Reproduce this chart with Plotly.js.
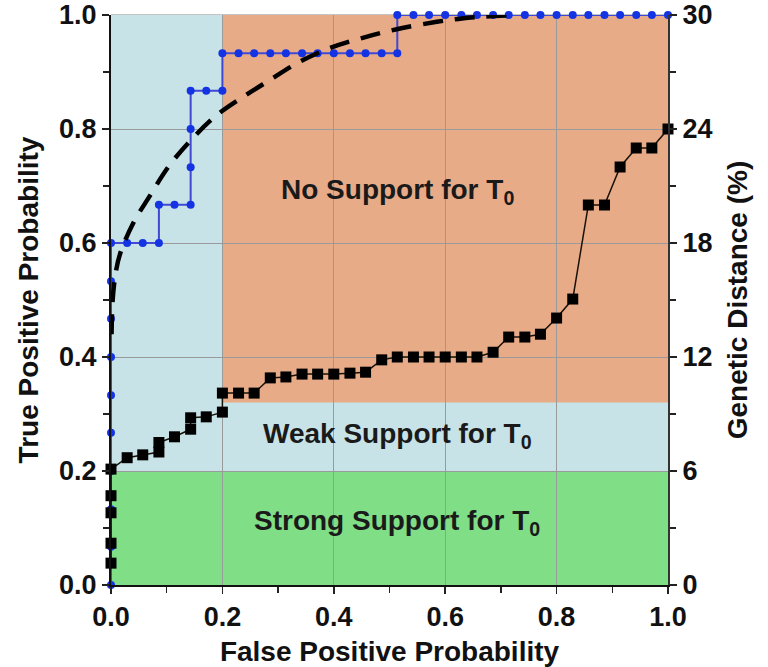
<!DOCTYPE html>
<html>
<head>
<meta charset="utf-8">
<script src="https://cdn.plot.ly/plotly-3.0.1.min.js"></script>
<style>
  html, body { margin: 0; padding: 0; background: #ffffff; }
  #chart { width: 768px; height: 667px; }
</style>
</head>
<body>
<div id="chart"></div>
<script>
// Empirical ROC: false / true positive probability at each threshold
const rocFpp = [0, 0, 0, 0, 0, 0, 0, 0, 0, 0,
  0.029, 0.057, 0.086, 0.086, 0.114, 0.143, 0.143, 0.143, 0.143,
  0.171, 0.2, 0.2, 0.229, 0.257, 0.286, 0.314, 0.343, 0.371, 0.4,
  0.429, 0.457, 0.486, 0.514, 0.514, 0.543, 0.571, 0.6, 0.629, 0.657,
  0.686, 0.714, 0.743, 0.771, 0.8, 0.829, 0.857, 0.886, 0.914, 0.943,
  0.971, 1.0];
const rocTpp = [0, 0.067, 0.133, 0.2, 0.267, 0.333, 0.4, 0.467, 0.533, 0.6,
  0.6, 0.6, 0.6, 0.667, 0.667, 0.667, 0.733, 0.8, 0.867,
  0.867, 0.867, 0.933, 0.933, 0.933, 0.933, 0.933, 0.933, 0.933, 0.933,
  0.933, 0.933, 0.933, 0.933, 1.0, 1.0, 1.0, 1.0, 1.0, 1.0,
  1.0, 1.0, 1.0, 1.0, 1.0, 1.0, 1.0, 1.0, 1.0, 1.0,
  1.0, 1.0];

// Fitted (smooth) ROC curve
const fitFpp = [0.001, 0.003, 0.008, 0.016, 0.04, 0.068, 0.104, 0.143, 0.187,
  0.235, 0.282, 0.339, 0.393, 0.452, 0.513, 0.585, 0.63, 0.67, 0.71];
const fitTpp = [0.44, 0.5, 0.545, 0.58, 0.635, 0.68, 0.735, 0.78, 0.822,
  0.855, 0.884, 0.918, 0.942, 0.96, 0.975, 0.988, 0.994, 0.997, 0.999];

// Genetic distance (%) threshold at each false positive probability
const gdFpp = [0, 0, 0, 0, 0, 0.029, 0.057, 0.086, 0.086, 0.114, 0.143, 0.143,
  0.171, 0.2, 0.2, 0.229, 0.257, 0.286, 0.314, 0.343, 0.371, 0.4, 0.429,
  0.457, 0.486, 0.514, 0.543, 0.571, 0.6, 0.629, 0.657, 0.686, 0.714,
  0.743, 0.771, 0.8, 0.829, 0.857, 0.886, 0.914, 0.943, 0.971, 1.0];
const gdValue = [1.15, 2.2, 3.8, 4.7, 6.1, 6.7, 6.85, 7.0, 7.5, 7.8, 8.2, 8.8,
  8.85, 9.1, 10.1, 10.1, 10.1, 10.9, 10.95, 11.1, 11.1, 11.1, 11.15,
  11.2, 11.85, 12.0, 12.0, 12.0, 12.0, 12.0, 12.0, 12.25, 13.05,
  13.05, 13.2, 14.05, 15.05, 20.0, 20.0, 22.0, 23.0, 23.0, 24.0];

// Support zones
const zoneNames = ['Strong', 'Weak', 'NoSupport'];
const zoneX0 = [0, 0, 0.2];
const zoneX1 = [1, 1, 1];
const zoneY0 = [0, 0.2, 0.32];
const zoneY1 = [0.2, 1, 1];
const zoneColors = ['#7fde86', '#c8e3e7', '#e8ab88'];

// Zone labels
const labelText = ['No Support for T<sub>0</sub>', 'Weak Support for T<sub>0</sub>', 'Strong Support for T<sub>0</sub>'];
const labelX = [0.514, 0.514, 0.514];
const labelY = [0.69, 0.263, 0.109];

const xTicks = [0, 0.2, 0.4, 0.6, 0.8, 1.0];
const yTicks = [0, 0.2, 0.4, 0.6, 0.8, 1.0];
const y2Ticks = [0, 6, 12, 18, 24, 30];

const font = 'Liberation Sans, Arial, Helvetica, sans-serif';

const shapes = zoneNames.map((n, i) => ({
  type: 'rect', xref: 'x', yref: 'y', layer: 'below',
  x0: zoneX0[i], x1: zoneX1[i], y0: zoneY0[i], y1: zoneY1[i],
  fillcolor: zoneColors[i], line: { width: 0 }
}));
// thin grey frame edge along the top of the plot area
shapes.push({
  type: 'line', xref: 'paper', yref: 'paper', layer: 'between',
  x0: 0, x1: 1, y0: 1, y1: 1, line: { color: '#8a8a8a', width: 1.2 }
});

const annotations = labelText.map((t, i) => ({
  x: labelX[i], y: labelY[i], xref: 'x', yref: 'y', text: t, showarrow: false,
  font: { family: font, size: 28, color: '#1a1a1a', weight: 'bold' }
}));

const traces = [
  {
    x: rocFpp, y: rocTpp, type: 'scatter', mode: 'lines+markers',
    line: { color: '#4048d4', width: 2 },
    marker: { color: '#1434e4', size: 8 },
    cliponaxis: false, hoverinfo: 'skip'
  },
  {
    x: fitFpp, y: fitTpp, type: 'scatter', mode: 'lines',
    line: { color: '#000000', width: 4.5, dash: '20px,12px', shape: 'spline' },
    cliponaxis: false, hoverinfo: 'skip'
  },
  {
    x: gdFpp, y: gdValue, yaxis: 'y2', type: 'scatter', mode: 'lines+markers',
    line: { color: '#1a1208', width: 1.5 },
    marker: { color: '#000000', size: 11, symbol: 'square' },
    cliponaxis: false, hoverinfo: 'skip'
  }
];

const tickFont = { family: font, size: 27, color: '#111', weight: 'bold' };
const titleFont = { family: font, size: 28, color: '#111', weight: 'bold' };

const layout = {
  width: 768, height: 667,
  margin: { l: 111, r: 100, t: 15, b: 82 },
  paper_bgcolor: '#ffffff', plot_bgcolor: '#ffffff',
  showlegend: false,
  shapes: shapes,
  annotations: annotations,
  xaxis: {
    range: [0, 1], tickvals: xTicks, ticktext: xTicks.map(v => v.toFixed(1)),
    ticks: 'outside', ticklen: 7, tickwidth: 1.5, tickcolor: '#222',
    minor: { dtick: 0.1, ticks: 'outside', ticklen: 6, tickcolor: '#222', showgrid: false },
    showline: true, linecolor: '#111', linewidth: 2,
    showgrid: true, gridcolor: '#9a9a9a', gridwidth: 1, zeroline: false,
    tickfont: tickFont,
    title: { text: 'False Positive Probability', font: titleFont, standoff: 16 }
  },
  yaxis: {
    range: [0, 1], tickvals: yTicks, ticktext: yTicks.map(v => v.toFixed(1)),
    ticks: 'outside', ticklen: 7, tickwidth: 1.5, tickcolor: '#222',
    minor: { dtick: 0.1, ticks: 'outside', ticklen: 6, tickcolor: '#222', showgrid: false },
    showline: true, linecolor: '#111', linewidth: 2,
    showgrid: true, gridcolor: '#9a9a9a', gridwidth: 1, zeroline: false,
    tickfont: tickFont,
    title: { text: 'True Positive Probability', font: titleFont, standoff: 12 }
  },
  yaxis2: {
    overlaying: 'y', side: 'right', anchor: 'x',
    range: [0, 30], tickvals: y2Ticks, ticktext: y2Ticks.map(String),
    ticks: 'outside', ticklen: 7, tickwidth: 1.5, tickcolor: '#222',
    minor: { dtick: 3, ticks: 'outside', ticklen: 6, tickcolor: '#222', showgrid: false },
    showline: true, linecolor: '#333', linewidth: 2,
    showgrid: false, zeroline: false,
    tickfont: tickFont,
    title: { text: 'Genetic Distance (%)', font: titleFont, standoff: 16 }
  }
};

Plotly.newPlot('chart', traces, layout, { staticPlot: true, displayModeBar: false });
</script>
</body>
</html>
